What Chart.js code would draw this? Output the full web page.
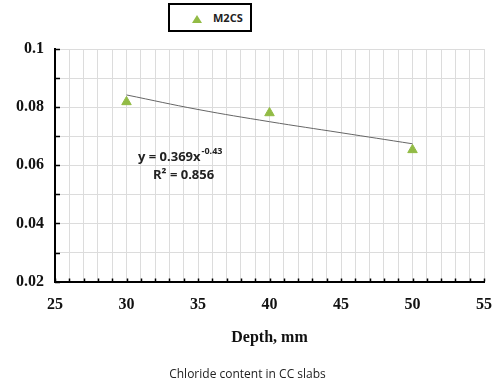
<!DOCTYPE html>
<html>
<head>
<meta charset="utf-8">
<script src="https://cdn.jsdelivr.net/npm/chart.js@4.4.0/dist/chart.umd.min.js"></script>
<style>
  html, body { margin: 0; padding: 0; background: #fff; }
  #wrap { position: relative; width: 495px; height: 389px; }
  #legend {
    position: absolute; left: 168px; top: 3px; width: 80px; height: 25px;
    border: 2px solid #000; background: #fff;
    font: bold 11px "Open Sans", sans-serif; color: #222;
  }
  #legend .tri {
    position: absolute; left: 22px; top: 10px; width: 0; height: 0;
    border-left: 5px solid transparent; border-right: 5px solid transparent;
    border-bottom: 8px solid #92bb45;
  }
  #legend span { position: absolute; left: 43px; top: 5px; }
</style>
</head>
<body>
<div id="wrap">
  <canvas id="chart" width="495" height="389"></canvas>
  <div id="legend"><div class="tri"></div><span>M2CS</span></div>
</div>
<script>
// measured points (depth in mm, chloride content)
const depths = [30, 40, 50];
const chloride = [0.0818, 0.078, 0.0653];

// power trendline
const trendDepths = [30, 35, 40, 45, 50];
const trendValues = [0.0842, 0.0792, 0.0750, 0.0712, 0.0674];

const seriesName = 'M2CS';
const eqText = 'y = 0.369x';
const eqExp = '-0.43';
const r2Text = 'R² = 0.856';

const serif = '"Liberation Serif", "Times New Roman", serif';
const sans = '"Open Sans", "Liberation Sans", sans-serif';

// inward tick marks + trendline equation
const extras = {
  id: 'extras',
  afterDraw(chart) {
    const { ctx, chartArea: a, scales: { x, y } } = chart;
    ctx.save();
    ctx.strokeStyle = '#000';
    ctx.lineWidth = 1.5;
    ctx.beginPath();
    y.ticks.forEach(t => {
      const py = Math.round(y.getPixelForValue(t.value)) + 0.5;
      ctx.moveTo(a.left, py);
      ctx.lineTo(a.left + 5, py);
    });
    x.ticks.forEach(t => {
      const px = Math.round(x.getPixelForValue(t.value)) + 0.5;
      ctx.moveTo(px, a.bottom);
      ctx.lineTo(px, a.bottom - 3);
    });
    ctx.stroke();

    ctx.fillStyle = '#222';
    ctx.textBaseline = 'middle';
    ctx.font = 'bold 13px ' + sans;
    const ex = 138, ey = 157;
    ctx.fillText(eqText, ex, ey);
    const w = ctx.measureText(eqText).width;
    ctx.font = 'bold 9px ' + sans;
    ctx.fillText(eqExp, ex + w + 1, ey - 6);
    ctx.font = 'bold 13px ' + sans;
    ctx.fillText(r2Text, 153, 175);
    ctx.restore();
  }
};

new Chart(document.getElementById('chart'), {
  type: 'scatter',
  data: {
    datasets: [
      {
        label: seriesName,
        data: depths.map((d, i) => ({ x: d, y: chloride[i] })),
        pointStyle: 'triangle',
        pointRadius: 5.5,
        backgroundColor: '#92bb45',
        borderColor: '#92bb45',
        borderWidth: 1
      },
      {
        label: 'trend',
        data: trendDepths.map((d, i) => ({ x: d, y: trendValues[i] })),
        showLine: true,
        tension: 0.4,
        pointRadius: 0,
        borderColor: '#666',
        borderWidth: 1
      }
    ]
  },
  options: {
    responsive: false,
    animation: false,
    layout: { padding: { top: 49, right: 0, bottom: 7, left: 0 } },
    plugins: {
      legend: { display: false },
      tooltip: { enabled: false },
      title: {
        display: true,
        position: 'bottom',
        text: 'Chloride content in CC slabs',
        color: '#222',
        font: { family: sans, size: 12, weight: 'normal' },
        padding: { top: 0, bottom: 0 }
      }
    },
    scales: {
      x: {
        type: 'linear',
        min: 25,
        max: 55,
        afterFit: s => { s.height = 86; },
        ticks: {
          stepSize: 1,
          autoSkip: false,
          maxRotation: 0,
          padding: 3,
          color: '#111',
          font: { family: serif, size: 16, weight: 'bold' },
          callback: v => (v % 5 === 0 ? v : '')
        },
        grid: { color: '#dcdcdc', drawTicks: true, tickLength: 11, tickColor: 'rgba(0,0,0,0)' },
        border: { color: '#000', width: 2 },
        title: {
          display: true,
          text: 'Depth, mm',
          color: '#111',
          font: { family: serif, size: 16, weight: 'bold' },
          padding: { top: 0, bottom: 20 }
        }
      },
      y: {
        min: 0.02,
        max: 0.1,
        afterFit: s => { s.width = 55; },
        ticks: {
          stepSize: 0.01,
          autoSkip: false,
          padding: 11,
          color: '#111',
          font: { family: serif, size: 16, weight: 'bold' },
          callback: v => {
            const n = Math.round(v * 100);
            return n % 2 === 0 ? String(n / 100) : '';
          }
        },
        grid: { color: '#dcdcdc', drawTicks: false },
        border: { color: '#000', width: 2 }
      }
    }
  },
  plugins: [extras]
});
</script>
</body>
</html>
